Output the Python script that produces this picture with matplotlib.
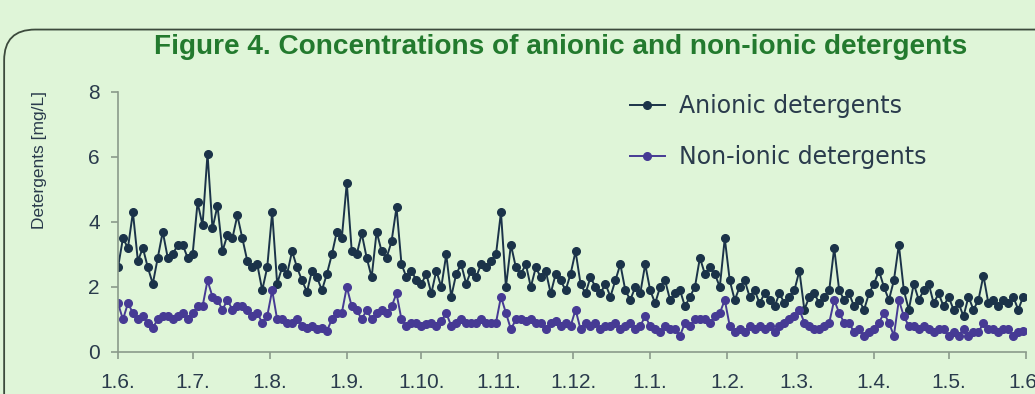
import numpy as np
import matplotlib
matplotlib.use('Agg')
import matplotlib.pyplot as plt
import matplotlib.dates as mdates
from matplotlib.patches import FancyBboxPatch
import datetime as dt

plt.rcParams['font.family'] = ['Liberation Sans', 'DejaVu Sans']

# measurements every 2nd day starting 1 June
start_date = dt.date(2006, 6, 1)
end_date = dt.date(2007, 6, 1)

anionic = [2.6, 3.5, 3.2, 4.3, 2.8, 3.2, 2.6, 2.1, 2.9, 3.7,
           2.9, 3.0, 3.3, 3.3, 2.9, 3.0, 4.6, 3.9, 6.1, 3.8,
           4.5, 3.1, 3.6, 3.5, 4.2, 3.5, 2.8, 2.6, 2.7, 1.9,
           2.6, 4.3, 2.1, 2.6, 2.4, 3.1, 2.6, 2.2, 1.85, 2.5,
           2.3, 1.9, 2.4, 3.0, 3.7, 3.5, 5.2, 3.1, 3.0, 3.65,
           2.9, 2.3, 3.7, 3.1, 2.9, 3.4, 4.45, 2.7, 2.3, 2.5,
           2.2, 2.1, 2.4, 1.8, 2.5, 2.0, 3.0, 1.7, 2.4, 2.7,
           2.1, 2.5, 2.3, 2.7, 2.6, 2.8, 3.0, 4.3, 2.0, 3.3,
           2.6, 2.4, 2.7, 2.0, 2.6, 2.3, 2.5, 1.8, 2.4, 2.2,
           1.9, 2.4, 3.1, 2.1, 1.8, 2.3, 2.0, 1.8, 2.1, 1.7,
           2.2, 2.7, 1.9, 1.6, 2.0, 1.8, 2.7, 1.9, 1.5, 2.0,
           2.2, 1.6, 1.8, 1.9, 1.4, 1.7, 2.0, 2.9, 2.4, 2.6,
           2.4, 2.0, 3.5, 2.2, 1.6, 2.0, 2.2, 1.7, 1.9, 1.5,
           1.8, 1.6, 1.4, 1.8, 1.5, 1.7, 1.9, 2.5, 1.3, 1.7,
           1.8, 1.5, 1.7, 1.9, 3.2, 1.9, 1.6, 1.8, 1.4, 1.6,
           1.3, 1.8, 2.1, 2.5, 2.0, 1.6, 2.2, 3.3, 1.9, 1.3,
           2.1, 1.6, 1.9, 2.1, 1.5, 1.8, 1.4, 1.7, 1.3, 1.5,
           1.1, 1.7, 1.3, 1.6, 2.35, 1.5, 1.6, 1.4, 1.6, 1.5,
           1.7, 1.3, 1.7]

nonionic = [1.5, 1.0, 1.5, 1.2, 1.0, 1.1, 0.9, 0.75, 1.0, 1.1,
            1.1, 1.0, 1.1, 1.2, 1.0, 1.2, 1.4, 1.4, 2.2, 1.7,
            1.6, 1.3, 1.6, 1.3, 1.4, 1.4, 1.3, 1.1, 1.2, 0.9,
            1.1, 1.9, 1.0, 1.0, 0.9, 0.9, 1.0, 0.8, 0.75, 0.8,
            0.7, 0.75, 0.65, 1.0, 1.2, 1.2, 2.0, 1.4, 1.3, 1.0,
            1.3, 1.0, 1.2, 1.3, 1.2, 1.4, 1.8, 1.0, 0.8, 0.9,
            0.9, 0.8, 0.85, 0.9, 0.8, 0.95, 1.2, 0.8, 0.9, 1.0,
            0.9, 0.9, 0.9, 1.0, 0.9, 0.9, 0.9, 1.7, 1.2, 0.7,
            1.0, 1.0, 0.95, 1.0, 0.9, 0.9, 0.7, 0.9, 0.95, 0.8,
            0.9, 0.8, 1.3, 0.7, 0.9, 0.8, 0.9, 0.7, 0.8, 0.8,
            0.9, 0.7, 0.8, 0.9, 0.7, 0.8, 1.1, 0.8, 0.7, 0.6,
            0.8, 0.7, 0.7, 0.5, 0.9, 0.8, 1.0, 1.0, 1.0, 0.9,
            1.1, 1.2, 1.6, 0.8, 0.6, 0.7, 0.6, 0.8, 0.7, 0.8,
            0.7, 0.8, 0.6, 0.8, 0.9, 1.0, 1.1, 1.3, 0.9, 0.8,
            0.7, 0.7, 0.8, 0.9, 1.6, 1.2, 0.9, 0.9, 0.6, 0.7,
            0.5, 0.6, 0.7, 0.9, 1.2, 0.9, 0.5, 1.6, 1.1, 0.8,
            0.8, 0.7, 0.8, 0.7, 0.6, 0.7, 0.7, 0.5, 0.6, 0.5,
            0.7, 0.5, 0.6, 0.6, 0.9, 0.7, 0.7, 0.6, 0.7, 0.7,
            0.5, 0.6, 0.65]

dates = [start_date + dt.timedelta(days=2 * i) for i in range(len(anionic))]

bg = '#dff5d8'
txt = '#2a3b4c'

fig = plt.figure(figsize=(10.35, 3.94), dpi=100, facecolor=bg)

# rounded frame at the top
frame = FancyBboxPatch((0.004, -0.2), 1.2, 1.125, transform=fig.transFigure,
                       boxstyle='round,pad=0,rounding_size=0.03',
                       fc='none', ec='#3c4a3c', lw=1.3, mutation_aspect=2.6)
fig.patches.append(frame)

ax = fig.add_axes([0.114, 0.1066, 0.877, 0.66])
ax.set_facecolor(bg)

ax.plot(dates, anionic, '-o', color='#1b3349', ms=5.5, lw=1.4, label='Anionic detergents')
ax.plot(dates, nonionic, '-o', color='#463a94', ms=5.5, lw=1.4, label='Non-ionic detergents')

ax.set_xlim(start_date, end_date)
ax.set_ylim(0, 8)
ax.set_yticks([0, 2, 4, 6, 8])
ax.xaxis.set_major_locator(mdates.MonthLocator())
ax.xaxis.set_major_formatter(plt.FuncFormatter(
    lambda v, pos: '1.%d.' % mdates.num2date(v).month))

for s in ['top', 'right']:
    ax.spines[s].set_visible(False)
for s in ['left', 'bottom']:
    ax.spines[s].set_color('#8a9a8a')
    ax.spines[s].set_linewidth(1.2)
ax.tick_params(axis='both', colors='#8a9a8a', labelcolor=txt, labelsize=15, length=5, width=1.2)
ax.tick_params(axis='x', pad=10)
ax.tick_params(axis='y', pad=8)

ax.set_ylabel('Detergents [mg/L]', color=txt, fontsize=12.5)
ax.yaxis.set_label_coords(-0.078, 0.74)

ax.legend(loc='upper left', bbox_to_anchor=(0.609, 0.762), bbox_transform=fig.transFigure,
          frameon=False, borderpad=0, borderaxespad=0,
          prop={'family': 'DejaVu Sans', 'size': 17}, labelcolor=txt,
          labelspacing=1.15, handlelength=1.45, handletextpad=0.6)

fig.text(0.542, 0.88, 'Figure 4. Concentrations of anionic and non-ionic detergents',
         ha='center', va='center', fontsize=20.2, fontweight='bold', color='#237a2e')

fig.savefig('out.png', dpi=100, facecolor=bg)
